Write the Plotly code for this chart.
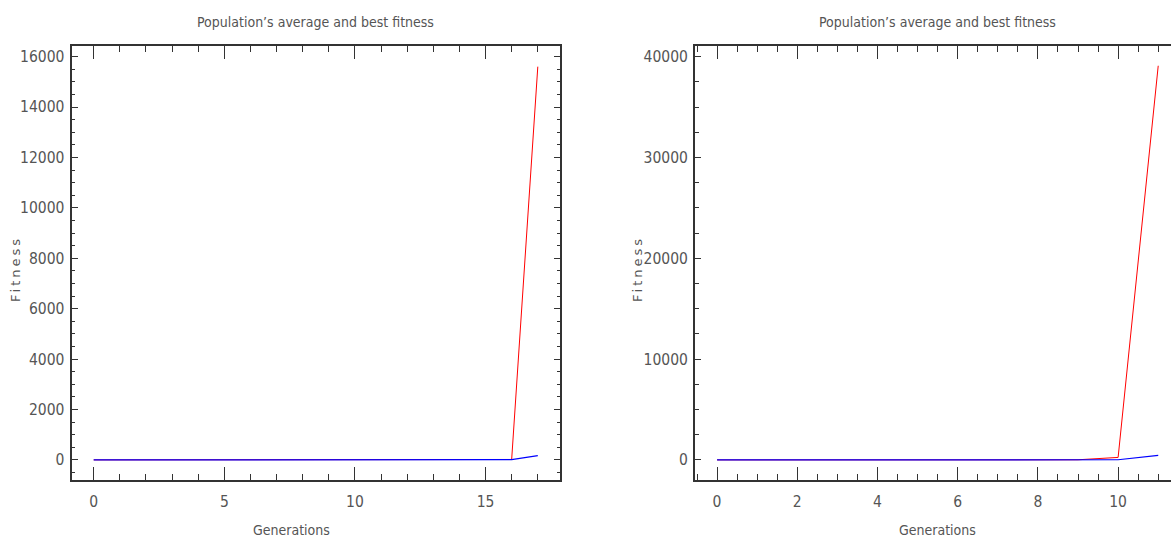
import plotly.graph_objects as go

# ---- data ----
gens_left = list(range(18))
best_left = [3, 4, 4, 5, 6, 6, 7, 8, 9, 10, 11, 12, 13, 14, 15, 17, 19, 15600]
avg_left = [1, 2, 2, 3, 3, 4, 4, 5, 5, 6, 7, 7, 8, 9, 9, 10, 11, 170]

gens_right = list(range(12))
best_right = [5, 6, 7, 8, 9, 10, 11, 12, 14, 16, 250, 39100]
avg_right = [2, 3, 3, 4, 4, 5, 5, 6, 7, 8, 20, 460]

title_text = "Population’s average and best fitness"
x_title = "Generations"
y_title = "Fitness"

RED = "#ff0000"
BLUE = "#0000ff"
AX = "#333333"
TXT = "#555555"
NUM_FONT = "DejaVu Sans Condensed, Liberation Sans Narrow, sans-serif"

fig = go.Figure()
fig.add_trace(go.Scatter(x=gens_left, y=best_left, mode="lines",
                         line=dict(color=RED, width=1), xaxis="x", yaxis="y"))
fig.add_trace(go.Scatter(x=gens_left, y=avg_left, mode="lines",
                         line=dict(color=BLUE, width=1.2), xaxis="x", yaxis="y"))
fig.add_trace(go.Scatter(x=gens_right, y=best_right, mode="lines",
                         line=dict(color=RED, width=1), xaxis="x2", yaxis="y2"))
fig.add_trace(go.Scatter(x=gens_right, y=avg_right, mode="lines",
                         line=dict(color=BLUE, width=1.2), xaxis="x2", yaxis="y2"))

W, H = 1171, 548
ydom = [1 - 479.5 / H, 1 - 46 / H]
xdom1 = [71.5 / W, 560 / W]
xdom2 = [695 / W, 1.0]

def xaxis(domain, rng, dtick, mdtick, anchor):
    return dict(domain=domain, range=rng, anchor=anchor, dtick=dtick, tick0=0,
                automargin=False, tickformat="d",
                ticks="inside", ticklen=13, tickwidth=1.3, tickcolor=AX,
                minor=dict(ticks="inside", dtick=mdtick, tick0=0, ticklen=6,
                           tickwidth=1.2, tickcolor=AX, showgrid=False),
                showline=True, linecolor=AX, linewidth=2, mirror="ticks",
                showgrid=False, zeroline=False,
                tickfont=dict(family=NUM_FONT, size=15.5, color=TXT), ticklabelstandoff=7)

def yaxis(domain, rng, dtick, mdtick, anchor, mirror):
    return dict(domain=domain, range=rng, anchor=anchor, dtick=dtick, tick0=0,
                automargin=False, tickformat="d",
                ticks="inside", ticklen=6, tickwidth=1.3, tickcolor=AX,
                minor=dict(ticks="inside", dtick=mdtick, tick0=0, ticklen=3.5,
                           tickwidth=1.2, tickcolor=AX, showgrid=False),
                showline=True, linecolor=AX, linewidth=2, mirror=mirror,
                showgrid=False, zeroline=False,
                tickfont=dict(family=NUM_FONT, size=15.5, color=TXT), ticklabelstandoff=2)

fig.update_layout(
    width=W, height=H, margin=dict(l=0, r=0, t=0, b=0, autoexpand=False),
    paper_bgcolor="white", plot_bgcolor="white", showlegend=False,
    xaxis=xaxis(xdom1, [-0.85, 17.85], 5, 1, "y"),
    yaxis=yaxis(ydom, [-775, 16420], 2000, 500, "x", "ticks"),
    xaxis2=xaxis(xdom2, [-0.55, (1171 - 716) / 40.2], 2, 0.5, "y2"),
    yaxis2=yaxis(ydom, [-1940, 41060], 10000, 2500, "x2", False),
)

ann = []
for cx, gx, ax_x in [(315, 291, 15), (937, 937, 637)]:
    ann.append(dict(text=title_text, x=cx / W, y=1 - 22 / H, xref="paper", yref="paper",
                    showarrow=False, xanchor="center", yanchor="middle",
                    font=dict(family=NUM_FONT, size=14, color=TXT)))
    ann.append(dict(text=x_title, x=gx / W, y=1 - 530 / H,
                    xref="paper", yref="paper", showarrow=False,
                    xanchor="center", yanchor="middle",
                    font=dict(family=NUM_FONT, size=14, color=TXT)))
    ann.append(dict(text='<span style="letter-spacing:3px">' + y_title + '</span>',
                    x=ax_x / W, y=1 - 269 / H, xref="paper", yref="paper",
                    showarrow=False, textangle=-90, xanchor="center", yanchor="middle",
                    font=dict(family="DejaVu Sans", size=13, color=TXT)))
fig.update_layout(annotations=ann)

fig.write_html("out.html", config={"displayModeBar": False},
               post_script="document.body.style.margin='0';")
